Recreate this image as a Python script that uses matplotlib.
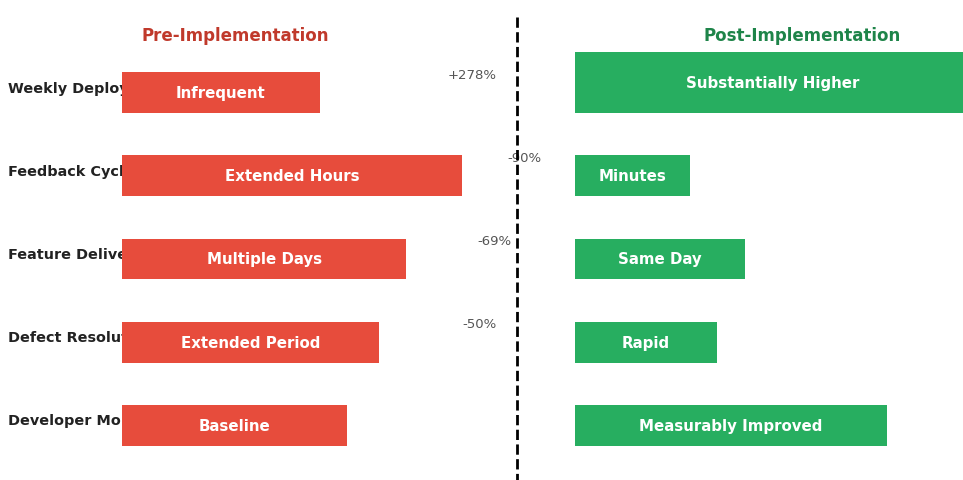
import matplotlib
matplotlib.use("Agg")
import matplotlib.pyplot as plt
from matplotlib.lines import Line2D

plt.rcParams["font.family"] = ["DejaVu Sans"]

# metrics, top to bottom
metrics = [
    "Weekly Deployments",
    "Feedback Cycle Time",
    "Feature Delivery Time",
    "Defect Resolution Time",
    "Developer Morale",
]
pre_values = [50, 86, 72, 65, 57]
pre_labels = ["Infrequent", "Extended Hours", "Multiple Days", "Extended Period", "Baseline"]
post_values = [100, 29, 43, 36, 79]
post_labels = ["Substantially Higher", "Minutes", "Same Day", "Rapid", "Measurably Improved"]
changes = ["+278%", "-90%", "-69%", "-50%"]

RED = "#e74c3c"
GREEN = "#27ae60"

W, H = 963, 481
fig = plt.figure(figsize=(W / 100, H / 100), dpi=100)


def px_axes(x0, x1, y0, y1):
    # axes placed by pixel edges (y measured from the top)
    ax = fig.add_axes([x0 / W, 1 - y1 / H, (x1 - x0) / W, (y1 - y0) / H])
    ax.set_xlim(0, 100)
    ax.set_ylim(4.6, -0.6)
    ax.axis("off")
    ax.patch.set_visible(False)
    return ax


row_top, row_step = 93.5, 83.25
ax_pre = px_axes(122, 517, row_top - 0.6 * row_step, row_top + 4.6 * row_step)
ax_post = px_axes(575, 970, row_top - 0.6 * row_step, row_top + 4.6 * row_step)
rows = list(range(len(metrics)))

# row names sit underneath the red bars
for i, name in enumerate(metrics):
    y = row_top + i * row_step - 5
    fig.text(8 / W, 1 - y / H, name, ha="left", va="center", fontsize=10.4,
             fontweight="bold", color="#222222", zorder=-1)

ax_pre.barh(rows, pre_values, height=0.49, color=RED, zorder=2)
for i, (v, lab) in enumerate(zip(pre_values, pre_labels)):
    ax_pre.text(v / 2, i, lab, ha="center", va="center", color="white",
                fontsize=10.8, fontweight="bold", zorder=3)

# first post bar is drawn taller, sharing its lower edge with the others
post_heights = [0.73, 0.49, 0.49, 0.49, 0.49]
post_centers = [i + 0.245 - h / 2 for i, h in zip(rows, post_heights)]
ax_post.barh(post_centers, post_values, height=post_heights, color=GREEN, zorder=2)
for c, v, lab in zip(post_centers, post_values, post_labels):
    ax_post.text(v / 2, c, lab, ha="center", va="center", color="white",
                 fontsize=10.8, fontweight="bold", zorder=3)

# change annotations near the divider
change_x = [88.6, 101.8, 94.4, 90.6]
for i, (txt, x) in enumerate(zip(changes, change_x)):
    ax_pre.text(x, i - 0.22, txt, ha="center", va="center", fontsize=9.5,
                color="#555555", clip_on=False, zorder=4)

# dashed divider between the two panels
fig.add_artist(Line2D([517 / W, 517 / W], [1 - 18 / H, 0], color="black",
                      lw=2, ls="--", transform=fig.transFigure))

fig.text(235 / W, 1 - 36 / H, "Pre-Implementation", ha="center", va="center",
         fontsize=12, fontweight="bold", color="#c0392b")
fig.text(802 / W, 1 - 36 / H, "Post-Implementation", ha="center", va="center",
         fontsize=12, fontweight="bold", color="#1e8449")

fig.savefig("out.png", dpi=100, facecolor="white")
